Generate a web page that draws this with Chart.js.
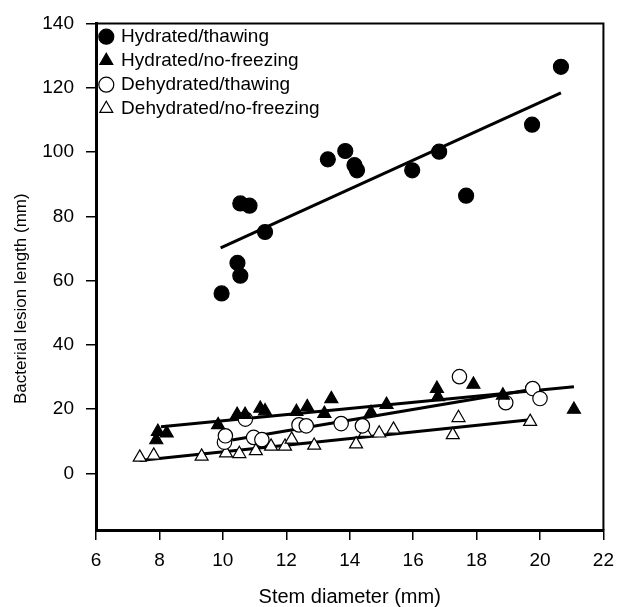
<!DOCTYPE html>
<html>
<head>
<meta charset="utf-8">
<script src="https://cdn.jsdelivr.net/npm/chart.js@4/dist/chart.umd.min.js"></script>
<style>
  html, body { margin: 0; padding: 0; background: #fff; }
  #wrap { width: 623px; height: 607px; }
</style>
</head>
<body>
<div id="wrap"><canvas id="c" width="623" height="607"></canvas></div>
<script>
// ---- data ----
const seriesNames = ["Hydrated/thawing", "Hydrated/no-freezing", "Dehydrated/thawing", "Dehydrated/no-freezing"];

const hydThawX = [9.96, 10.46, 10.55, 10.55, 10.84, 11.33, 13.31, 13.86, 14.15, 14.23, 15.97, 16.82, 17.67, 19.75, 20.66];
const hydThawY = [56.0, 65.5, 61.5, 84.0, 83.3, 75.1, 97.7, 100.3, 95.9, 94.3, 94.3, 100.1, 86.4, 108.5, 126.5];

const hydNoFreezeX = [7.95, 7.90, 8.23, 9.85, 10.45, 10.70, 11.18, 11.33, 12.32, 12.66, 13.20, 13.42, 14.67, 15.16, 16.75, 16.78, 17.90, 18.83, 21.07];
const hydNoFreezeY = [13.0, 10.4, 12.5, 15.1, 18.3, 18.3, 20.2, 19.4, 19.2, 20.7, 18.6, 23.2, 18.9, 21.4, 26.4, 23.8, 27.7, 24.3, 19.9];

const dehThawX = [10.05, 10.08, 10.71, 10.97, 11.23, 12.40, 12.63, 13.73, 14.40, 17.46, 18.92, 19.77, 20.00];
const dehThawY = [9.7, 11.7, 16.9, 11.2, 10.5, 15.1, 14.8, 15.5, 14.8, 30.1, 22.0, 26.4, 23.3];

const dehNoFreezeX = [7.38, 7.82, 9.33, 10.10, 10.52, 11.04, 11.52, 11.96, 12.17, 12.88, 14.20, 14.49, 14.93, 15.38, 17.25, 17.43, 19.69];
const dehNoFreezeY = [5.0, 5.6, 5.3, 6.3, 6.1, 7.0, 8.4, 8.4, 10.6, 8.7, 9.1, 12.7, 12.5, 13.7, 12.0, 17.3, 16.1];

// regression line end points
const fitHydThawX = [9.93, 20.66],     fitHydThawY = [70.2, 118.4];
const fitHydNoFreezeX = [8.05, 21.07], fitHydNoFreezeY = [14.5, 27.0];
const fitDehThawX = [10.29, 19.77],    fitDehThawY = [10.4, 26.2];
const fitDehNoFreezeX = [7.38, 19.69], fitDehNoFreezeY = [4.0, 16.7];

const xTicks = [6, 8, 10, 12, 14, 16, 18, 20, 22];
const yTicks = [0, 20, 40, 60, 80, 100, 120, 140];
const xTitle = "Stem diameter (mm)";
const yTitle = "Bacterial lesion length (mm)";

// ---- build ----
const pts = (xs, ys) => xs.map((x, i) => ({ x: x, y: ys[i] }));
const FONT = "'Liberation Sans', Arial, Helvetica, sans-serif";

function pointSet(label, xs, ys, style, fill, r) {
  return {
    label: label, data: pts(xs, ys), showLine: false, order: 1,
    pointStyle: style, pointRadius: r, pointHoverRadius: r,
    pointBackgroundColor: fill, pointBorderColor: '#000', pointBorderWidth: 1.2,
    backgroundColor: fill, borderColor: '#000', borderWidth: 1.2
  };
}
function fitSet(xs, ys) {
  return {
    label: '', data: pts(xs, ys), showLine: true, order: 2, fit: true,
    borderColor: '#000', borderWidth: 3, pointRadius: 0, pointHoverRadius: 0, fill: false
  };
}

const framePlugin = {
  id: 'frame',
  afterLayout(chart) {
    // the y-axis title of the reference sits a little below the plot's middle
    const s = chart.scales.y;
    if (!s._titleShifted) {
      const orig = s.drawTitle.bind(s);
      s.drawTitle = function () {
        const ctx = chart.ctx;
        ctx.save(); ctx.translate(0, 22); orig(); ctx.restore();
      };
      s._titleShifted = true;
    }
  },
  afterDatasetsDraw(chart) {
    const a = chart.chartArea, ctx = chart.ctx;
    ctx.save();
    ctx.strokeStyle = '#000';
    ctx.lineWidth = 2;
    ctx.beginPath();
    ctx.moveTo(a.left, a.top); ctx.lineTo(a.right, a.top); ctx.lineTo(a.right, a.bottom);
    ctx.stroke();
    ctx.restore();
  }
};

new Chart(document.getElementById('c'), {
  type: 'scatter',
  data: {
    datasets: [
      pointSet(seriesNames[0], hydThawX, hydThawY, 'circle', '#000', 7.5),
      pointSet(seriesNames[1], hydNoFreezeX, hydNoFreezeY, 'triangle', '#000', 7.5),
      pointSet(seriesNames[2], dehThawX, dehThawY, 'circle', '#fff', 7.2),
      pointSet(seriesNames[3], dehNoFreezeX, dehNoFreezeY, 'triangle', '#fff', 7.5),
      fitSet(fitHydThawX, fitHydThawY),
      fitSet(fitHydNoFreezeX, fitHydNoFreezeY),
      fitSet(fitDehThawX, fitDehThawY),
      fitSet(fitDehNoFreezeX, fitDehNoFreezeY)
    ]
  },
  options: {
    responsive: false,
    animation: false,
    events: [],
    layout: { padding: { left: 0, top: 20, right: 13, bottom: 0 } },
    plugins: {
      tooltip: { enabled: false },
      legend: {
        position: 'chartArea',
        align: 'start',
        title: { display: true, text: '', padding: { top: 21, bottom: 0 }, font: { size: 1 } },
        labels: {
          usePointStyle: true,
          boxWidth: 10.6, boxHeight: 10.6,
          padding: 5,
          color: '#000',
          font: { family: FONT, size: 19 },
          filter: (item, data) => !data.datasets[item.datasetIndex].fit
        }
      }
    },
    scales: {
      x: {
        type: 'linear', min: 6, max: 22,
        afterBuildTicks: (axis) => { axis.ticks = xTicks.map(v => ({ value: v })); },
        afterFit: (scale) => { scale.height = 77; },
        border: { display: true, color: '#000', width: 3 },
        grid: { display: true, drawOnChartArea: false, drawTicks: true, tickLength: 10, color: '#000', lineWidth: 1.5 },
        ticks: { color: '#000', padding: 9, maxRotation: 0, font: { family: FONT, size: 19 } },
        title: { display: true, text: xTitle, color: '#000', padding: { top: 0, bottom: 0 }, font: { family: FONT, size: 20, lineHeight: 1 } }
      },
      y: {
        type: 'linear', min: -17.6, max: 140,
        afterBuildTicks: (axis) => { axis.ticks = yTicks.map(v => ({ value: v })); },
        afterFit: (scale) => { scale.width = 96; },
        border: { display: true, color: '#000', width: 3 },
        grid: { display: true, drawOnChartArea: false, drawTicks: true, tickLength: 10, color: '#000', lineWidth: 1.5 },
        ticks: { color: '#000', padding: 12, font: { family: FONT, size: 19 } },
        title: { display: true, text: yTitle, color: '#000', padding: { top: 13, bottom: 0 }, font: { family: FONT, size: 17, lineHeight: 1 } }
      }
    }
  },
  plugins: [framePlugin]
});
</script>
</body>
</html>
